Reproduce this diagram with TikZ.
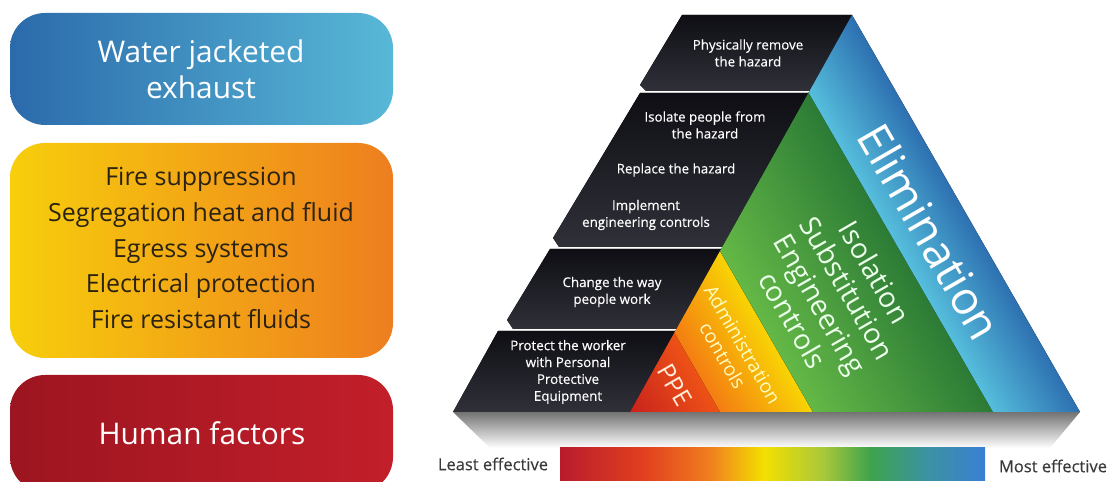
\documentclass[tikz,border=0pt]{standalone}
\usepackage{fontspec}
\setmainfont{Open Sans}
\usetikzlibrary{calc}

\definecolor{waterL}{HTML}{2B6AAB}
\definecolor{waterR}{HTML}{58B8D7}
\definecolor{fireL}{HTML}{F7CE0C}
\definecolor{fireR}{HTML}{EE7E1F}
\definecolor{humanL}{HTML}{9C1520}
\definecolor{humanR}{HTML}{C21F2A}
\definecolor{panelTop}{HTML}{0E0E14}
\definecolor{panelBot}{HTML}{303039}
\definecolor{ppeL}{HTML}{C8221D}
\definecolor{ppeR}{HTML}{EE5216}
\definecolor{admL}{HTML}{F47D12}
\definecolor{admR}{HTML}{F8D404}
\definecolor{engL}{HTML}{64B846}
\definecolor{engR}{HTML}{2C7B36}
\definecolor{elimL}{HTML}{56BEDC}
\definecolor{elimR}{HTML}{2A6BAE}
\definecolor{labelGrey}{HTML}{3A3A3A}
\definecolor{fireText}{HTML}{2A2212}
\definecolor{barRed}{HTML}{B81C2C}
\definecolor{barRedOr}{HTML}{E2401F}
\definecolor{barOrange}{HTML}{F07D1F}
\definecolor{barYellow}{HTML}{F3E000}
\definecolor{barLime}{HTML}{A8C83A}
\definecolor{barGreen}{HTML}{3EA34C}
\definecolor{barTeal}{HTML}{3B93A0}
\definecolor{barBlue}{HTML}{3A7FD3}

\pgfdeclarehorizontalshading{effbar}{100bp}{color(0bp)=(barRed); color(25bp)=(barRed);
  color(35bp)=(barRedOr); color(42.5bp)=(barOrange); color(49bp)=(barYellow);
  color(56bp)=(barLime); color(61.5bp)=(barGreen); color(68bp)=(barTeal);
  color(75bp)=(barBlue); color(100bp)=(barBlue)}

\newcommand{\fsz}[2]{\fontsize{#1}{#2}\selectfont}
\newfontfamily\heavyfont[FakeBold=0.35]{Open Sans}

\begin{document}
\begin{tikzpicture}[x=0.02cm,y=-0.02cm,
	box/.style={rounded corners=0.7cm},
	boxtext/.style={align=center, font=\fsz{17}{20.5}},
	firetext/.style={align=center, font=\fsz{14.2}{20.4}, text=fireText},
	panel/.style={top color=panelTop, bottom color=panelBot},
	paneltext/.style={align=center, text=white, font=\heavyfont\fsz{7.6}{9.6}},
	bandtext/.style={align=center, rotate=-60},
	efftext/.style={text=labelGrey, font=\heavyfont\fsz{9.4}{11}}]
	\useasboundingbox (0,0) rectangle (1110,482);

	% left boxes
	\path[box, left color=waterL, right color=waterR] (10,13) rectangle (393,125);
	\path[box, left color=fireL, right color=fireR] (10,143) rectangle (393,358);
	\path[box, left color=humanL, right color=humanR] (10,375) rectangle (393,492);
	\node[boxtext, text=white] (water) at (201,69) {Water jacketed\\exhaust};
	\node[firetext] (fire) at (201,248) {Fire suppression\\Segregation heat and fluid\\Egress systems\\Electrical protection\\Fire resistant fluids};
	\node[boxtext, text=white] (human) at (202,433) {Human factors};

	\coordinate (apex) at (852,15);
	\coordinate (baseL) at (630,412);
	\coordinate (baseR) at (1080,412);

	% shadow under the pyramid
	\shade[top color=black!55, bottom color=white] (453,412) -- (1080,412) -- (1050,448) -- (490,448) -- cycle;

	% black panels
	\fill[panel] (682,15) -- (852,15) -- (809.5,91) -- (646,91) -- (640,85) -- cycle;
	\fill[panel] (640,93) -- (808.4,93) -- (722.3,247) -- (559,247) -- (553,238) -- cycle;
	\fill[panel] (550,249) -- (721.1,249) -- (676.4,329) -- (513,329) -- (507,320) -- cycle;
	\fill[panel] (498,331) -- (675.3,331) -- (baseL) -- (453,412) -- cycle;

	% coloured bands
	\begin{scope}
		\clip (apex) -- (baseR) -- (baseL) -- cycle;
		\begin{scope}[transform canvas={shift={(baseL)}, rotate=30}]
			\fill[left color=ppeL, right color=ppeR] (0,-260) rectangle (78.3,240);
			\fill[left color=admL, right color=admR] (78,-260) rectangle (158.8,240);
			\fill[left color=engL, right color=engR] (158.5,-260) rectangle (314.7,240);
			\fill[left color=elimL, right color=elimR] (314.4,-260) rectangle (395,240);
		\end{scope}
	\end{scope}

	\node[paneltext] (remove) at (748,53) {Physically remove\\the hazard};
	\node[paneltext] (isolate) at (705,125) {Isolate people from\\the hazard};
	\node[paneltext] (replace) at (676,170) {Replace the hazard};
	\node[paneltext] (implement) at (646,215) {Implement\\engineering controls};
	\node[paneltext] (change) at (612,292) {Change the way\\people work};
	\node[paneltext] (protect) at (568,372) {Protect the worker\\with Personal\\Protective\\Equipment};

	\node[bandtext, text=white, font=\fsz{26}{30}] (elim) at (930,232) {Elimination};
	\node[bandtext, text=green!8!white, font=\fsz{16}{18}] (eng) at (834,296) {Isolation\\Substitution\\Engineering\\controls};
	\node[bandtext, text=yellow!25!white, font=\fsz{11}{13}] (adm) at (733,350) {Administration\\controls};
	\node[bandtext, text=orange!15!white, font=\fsz{14}{16}] (ppe) at (675,385) {PPE};

	% effectiveness bar
	\shade[shading=effbar] (560,448) rectangle (985,481);
	\node[efftext] (least) at (493,464) {Least effective};
	\node[efftext] (most) at (1053,466) {Most effective};
\end{tikzpicture}
\end{document}
